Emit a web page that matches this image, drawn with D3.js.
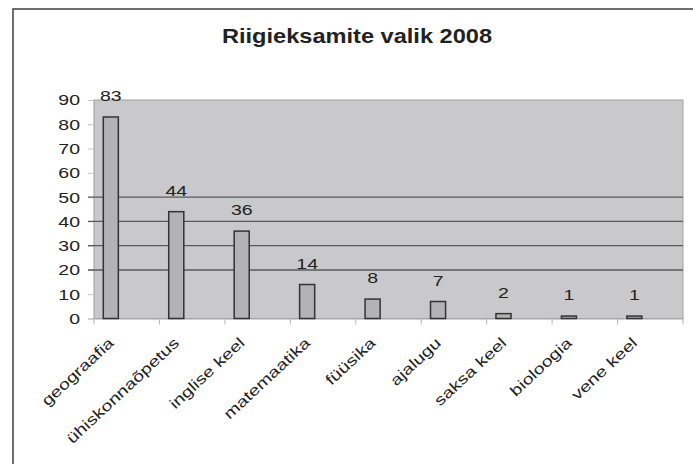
<!DOCTYPE html>
<html>
<head>
<meta charset="utf-8">
<script src="https://cdn.jsdelivr.net/npm/d3@7"></script>
<style>
  html, body { margin: 0; padding: 0; background: #fff; }
  svg { display: block; }
  text { font-family: "Liberation Sans", Arial, sans-serif; fill: #222; }
</style>
</head>
<body>
<svg id="chart" width="693" height="464"></svg>
<script>
const title = "Riigieksamite valik 2008";
const categories = ["geograafia", "ühiskonnaõpetus", "inglise keel", "matemaatika", "füüsika", "ajalugu", "saksa keel", "bioloogia", "vene keel"];
const values = [83, 44, 36, 14, 8, 7, 2, 1, 1];
const yTicks = [0, 10, 20, 30, 40, 50, 60, 70, 80, 90];
const gridValues = [20, 30, 40, 50];

const svg = d3.select("#chart");
const W = 693, H = 464;
const plot = { left: 94, right: 683, top: 100, bottom: 318.5 };
const SX = 1.3; // horizontal glyph stretch seen in the reference

svg.append("rect").attr("width", W).attr("height", H).attr("fill", "#fff");

// outer frame
svg.append("rect")
  .attr("x", 13).attr("y", 9).attr("width", 720).attr("height", 480)
  .attr("fill", "none").attr("stroke", "#4a4a4a").attr("stroke-width", 1.6);

// title
svg.append("text")
  .attr("transform", "translate(357,43) scale(1.18,1)")
  .attr("text-anchor", "middle")
  .style("font-size", "20px").style("font-weight", "bold")
  .text(title);

const x = d3.scaleBand().domain(categories).range([plot.left, plot.right]).padding(0);
const y = d3.scaleLinear().domain([0, 90]).range([plot.bottom, plot.top]);

// plot area
svg.append("rect")
  .attr("x", plot.left).attr("y", plot.top)
  .attr("width", plot.right - plot.left).attr("height", plot.bottom - plot.top)
  .attr("fill", "#c9c9cb").attr("stroke", "#a2a2a2").attr("stroke-width", 1);

// y axis ticks (light)
const yAxis = d3.axisLeft(y).tickValues(yTicks).tickSize(6).tickFormat("");
const gy = svg.append("g").attr("transform", `translate(${plot.left},0)`).call(yAxis);
gy.select(".domain").attr("stroke", "#b0b0b0");
gy.selectAll(".tick line").attr("stroke", "#c4c4c4");

// y labels
svg.append("g").selectAll("text").data(yTicks).join("text")
  .attr("transform", d => `translate(80,${y(d)}) scale(${SX},1)`)
  .attr("text-anchor", "end").attr("dy", "0.36em")
  .style("font-size", "15px")
  .text(d => d);

// grid lines
svg.append("g").selectAll("line").data(gridValues).join("line")
  .attr("x1", plot.left - 6).attr("x2", plot.right)
  .attr("y1", d => y(d)).attr("y2", d => y(d))
  .attr("stroke", "#5a5a5a").attr("stroke-width", 1.4);

// x axis
const xAxis = d3.axisBottom(x).tickSize(0).tickFormat("");
const gx = svg.append("g").attr("transform", `translate(0,${plot.bottom})`).call(xAxis);
gx.select(".domain").attr("stroke", "#a8a8a8");
const bounds = categories.map(c => x(c)).concat([plot.right]);
gx.selectAll(".bnd").data(bounds).join("line").attr("class", "bnd")
  .attr("x1", d => d).attr("x2", d => d).attr("y1", 0).attr("y2", 6)
  .attr("stroke", "#b8b8b8").attr("stroke-width", 1);

// bars
const bw = x.bandwidth();
svg.append("g").selectAll("rect").data(values).join("rect")
  .attr("x", (d, i) => x(categories[i]) + bw * 0.142)
  .attr("width", bw * 0.23)
  .attr("y", d => y(d))
  .attr("height", d => y(0) - y(d))
  .attr("fill", "#b3b3b5").attr("stroke", "#333").attr("stroke-width", 1.5);

// value labels
svg.append("g").selectAll("text").data(values).join("text")
  .attr("transform", (d, i) => `translate(${x(categories[i]) + bw * 0.257},${y(d) - 16}) scale(${SX},1)`)
  .attr("text-anchor", "middle")
  .style("font-size", "15px")
  .text(d => d);

// category labels
svg.append("g").selectAll("text").data(categories).join("text")
  .attr("text-anchor", "end")
  .attr("transform", d => `translate(${x(d) + bw / 2 - 12},344) rotate(-43) scale(${SX},1)`)
  .style("font-size", "15px")
  .attr("fill", "#333")
  .text(d => d);
</script>
</body>
</html>
